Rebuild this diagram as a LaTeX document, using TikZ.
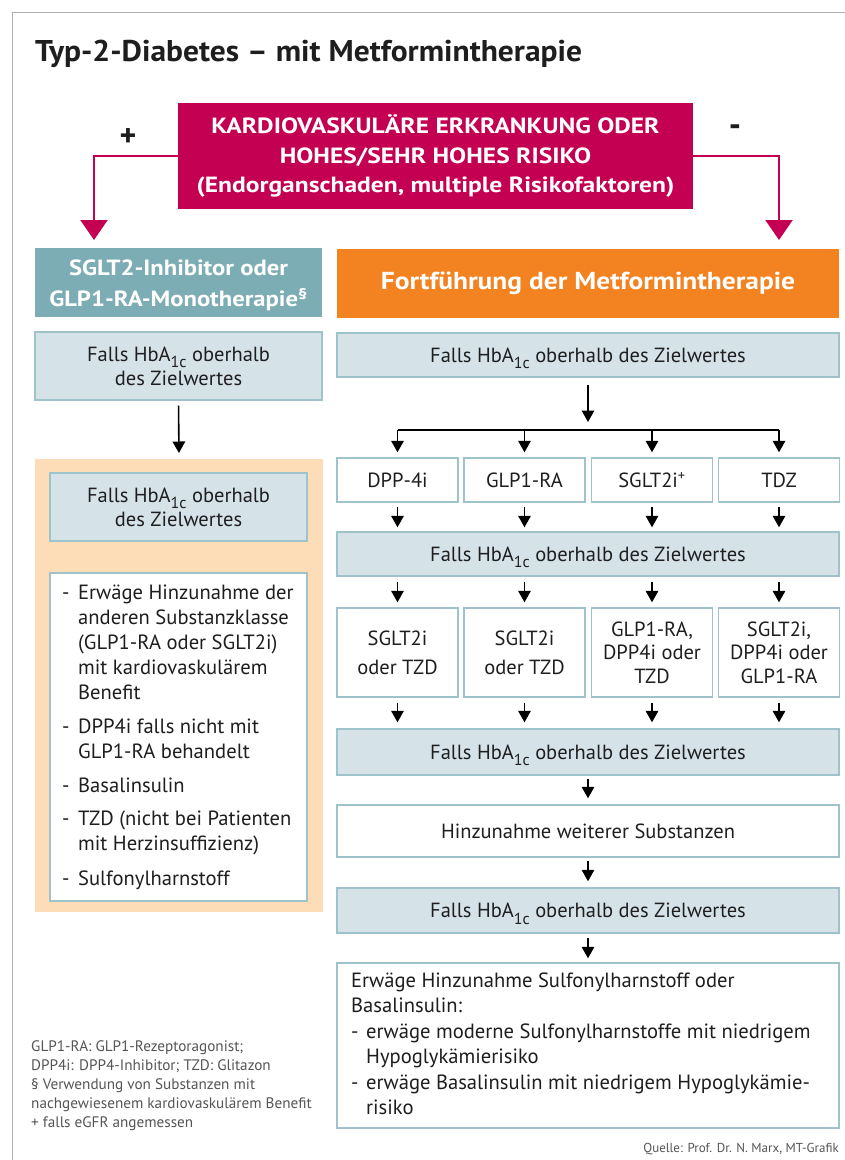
\documentclass[tikz,border=0pt]{standalone}
\usepackage{fontspec}
\setmainfont{PT Sans}
\newfontfamily\titlefont[FakeStretch=1.05]{PT Sans}
\newfontfamily\hdrfont[FakeStretch=1.12]{PT Sans}
\newfontfamily\pinkfont[FakeStretch=1.16]{PT Sans}
\usetikzlibrary{arrows.meta}
\definecolor{pinkc}{RGB}{196,0,82}
\definecolor{tealc}{RGB}{125,173,180}
\definecolor{orangec}{RGB}{243,131,33}
\definecolor{lightc}{RGB}{213,227,233}
\definecolor{borderc}{RGB}{158,195,203}
\definecolor{peachc}{RGB}{253,221,183}
\definecolor{framec}{RGB}{175,175,175}
\definecolor{txtc}{RGB}{30,30,30}
\definecolor{notec}{RGB}{85,85,85}
\newcommand\litem{\makebox[16pt][l]{-}}
\newcommand\lcont{\hspace*{16pt}}
\newcommand\hba{HbA\raisebox{-0.32em}[0pt][0pt]{\scalebox{0.78}{1c}}}
\begin{document}
\begin{tikzpicture}[x=1pt,y=-1pt,
  every node/.style={text=txtc},
  boxbase/.style={draw=borderc, line width=1.4pt, inner sep=0pt, align=center, font=\fontsize{20.5}{24}\selectfont},
  bluebox/.style={boxbase, fill=lightc},
  whitebox/.style={boxbase, fill=white},
  hdr/.style={inner sep=0pt, align=center, text=white, font=\fontsize{22}{31}\selectfont\hdrfont\bfseries},
  arr/.style={line width=1.6pt, draw=black, -{Triangle[width=12.5pt,length=11.5pt]}},
  bus/.style={line width=1.6pt, draw=black},
  pinkarr/.style={line width=2.2pt, draw=pinkc, -{Triangle[width=27pt,length=20pt]}}
]
\useasboundingbox (0,0) rectangle (845,1160);
\fill[white] (0,0) rectangle (845,1160);
\draw[framec, line width=1pt] (12,1160) -- (12,12) -- (845,12);

% title
\node[anchor=base west, inner sep=0pt, font=\fontsize{30}{32}\selectfont\titlefont\bfseries] (title) at (35,61) {Typ-2-Diabetes – mit Metformintherapie};

% risk box
\node[hdr, fill=pinkc, minimum width=515pt, minimum height=106pt, font=\fontsize{22}{29.5}\selectfont\pinkfont\bfseries] (risk) at (435.5,156)
  {KARDIOVASKULÄRE ERKRANKUNG ODER\\HOHES/SEHR HOHES RISIKO\\(Endorganschaden, multiple Risikofaktoren)};
\node[font=\fontsize{32}{34}\selectfont\bfseries, inner sep=0pt] (plus) at (128,137) {+};
\node[font=\fontsize{34}{36}\selectfont\bfseries, inner sep=0pt] (minus) at (735,131) {-};
\coordinate (lt) at (94,240);
\coordinate (rt) at (779,240);
\draw[pinkarr] (risk.west) -| (lt);
\draw[pinkarr] (risk.east) -| (rt);

% headers
\fill[tealc] (35,248) rectangle (322,317);
\node[hdr] (teal) at (178.5,285.5)
  {SGLT2-Inhibitor oder\\GLP1-RA-Monotherapie\textsuperscript{§}};
\node[hdr, fill=orangec, minimum width=502pt, minimum height=69pt, font=\fontsize{24.5}{31}\selectfont\hdrfont\bfseries] (orange) at (588,283)
  {Fortführung der Metformintherapie};

% left column
\node[bluebox, minimum width=287pt, minimum height=68pt] (L1) at (178.5,366) {Falls \hba{} oberhalb\\des Zielwertes};
\fill[peachc] (35,459) rectangle (323,912);
\coordinate (peachtop) at (179,459);
\node[bluebox, minimum width=257pt, minimum height=68pt] (L2) at (178.5,507) {Falls \hba{} oberhalb\\des Zielwertes};
\node[whitebox, minimum width=257pt, minimum height=328pt] (L3) at (178.5,737) {};
\node[anchor=north west, inner sep=0pt, align=left, font=\fontsize{20.6}{25}\selectfont] (L3t) at (62,581.5)
  {\strut\litem Erwäge Hinzunahme der\\
   \lcont anderen Substanzklasse\\
   \lcont (GLP1-RA oder SGLT2i)\\
   \lcont mit kardiovaskulärem\\
   \lcont Benefit\\[9pt]
   \litem DPP4i falls nicht mit\\
   \lcont GLP1-RA behandelt\\[9pt]
   \litem Basalinsulin\\[8pt]
   \litem TZD (nicht bei Patienten\\
   \lcont mit Herzinsuffizienz)\\[10pt]
   \litem Sulfonylharnstoff};
\draw[arr, shorten <=5pt, shorten >=6pt] (L1.south) -- (peachtop);

% right column
\node[bluebox, minimum width=502pt, minimum height=44pt] (R1) at (588,355) {Falls \hba{} oberhalb des Zielwertes};
\node[whitebox, minimum width=121pt, minimum height=44pt] (a1) at (397.5,480) {DPP-4i};
\node[whitebox, minimum width=121pt, minimum height=44pt] (a2) at (524.5,480) {GLP1-RA};
\node[whitebox, minimum width=121pt, minimum height=44pt] (a3) at (652,480) {SGLT2i\textsuperscript{+}};
\node[whitebox, minimum width=121pt, minimum height=44pt] (a4) at (779,480) {TDZ};
\node[bluebox, minimum width=502pt, minimum height=44pt] (R2) at (588,554) {Falls \hba{} oberhalb des Zielwertes};
\node[whitebox, minimum width=121pt, minimum height=89pt, font=\fontsize{20.5}{29}\selectfont] (b1) at (397.5,652.5) {SGLT2i\\oder TZD};
\node[whitebox, minimum width=121pt, minimum height=89pt, font=\fontsize{20.5}{29}\selectfont] (b2) at (524.5,652.5) {SGLT2i\\oder TZD};
\node[whitebox, minimum width=121pt, minimum height=89pt, font=\fontsize{20.5}{23.5}\selectfont] (b3) at (652,652.5) {GLP1-RA,\\DPP4i oder\\TZD};
\node[whitebox, minimum width=121pt, minimum height=89pt, font=\fontsize{20.5}{23.5}\selectfont] (b4) at (779,652.5) {SGLT2i,\\DPP4i oder\\GLP1-RA};
\node[bluebox, minimum width=502pt, minimum height=46pt] (R3) at (588,752) {Falls \hba{} oberhalb des Zielwertes};
\node[whitebox, minimum width=502pt, minimum height=52pt] (R4) at (588,831) {Hinzunahme weiterer Substanzen};
\node[bluebox, minimum width=502pt, minimum height=45pt] (R5) at (588,910.5) {Falls \hba{} oberhalb des Zielwertes};
\node[whitebox, minimum width=502pt, minimum height=165pt] (R6) at (588,1045.5) {};
\node[anchor=north west, inner sep=0pt, align=left, font=\fontsize{20.6}{25.5}\selectfont] (R6t) at (351,969)
  {\strut Erwäge Hinzunahme Sulfonylharnstoff oder\\
   Basalinsulin:\\
   \makebox[15pt][l]{-}erwäge moderne Sulfonylharnstoffe mit niedrigem\\
   \hspace*{15pt}Hypoglykämierisiko\\
   \makebox[15pt][l]{-}erwäge Basalinsulin mit niedrigem Hypoglykämie-\\
   \hspace*{15pt}risiko};

% right connectors
\coordinate (bus) at (588,430);
\draw[arr, shorten <=7pt, shorten >=8pt] (R1.south) -- (bus);
\draw[bus] (a1.north |- bus) -- (a4.north |- bus);
\foreach \n in {a1,a2,a3,a4} {
  \draw[arr, shorten >=5pt] (\n.north |- bus) -- (\n.north);
  \draw[arr, shorten <=4pt, shorten >=4pt] (\n.south) -- (\n.south |- R2.north);
}
\foreach \n in {b1,b2,b3,b4} {
  \draw[arr, shorten <=5pt, shorten >=5pt] (\n.north |- R2.south) -- (\n.north);
  \draw[arr, shorten <=5pt, shorten >=6pt] (\n.south) -- (\n.south |- R3.north);
}
\draw[arr, shorten <=3pt, shorten >=6pt] (R3.south) -- (R4.north);
\draw[arr, shorten <=3pt, shorten >=6pt] (R4.south) -- (R5.north);
\draw[arr, shorten <=4pt, shorten >=4pt] (R5.south) -- (R6.north);

% notes
\node[anchor=north west, inner sep=0pt, align=left, text=notec, font=\fontsize{15.2}{19}\selectfont] (notes) at (31,1038)
  {\strut GLP1-RA: GLP1-Rezeptoragonist;\\
   DPP4i: DPP4-Inhibitor; TZD: Glitazon\\
   § Verwendung von Substanzen mit\\
   nachgewiesenem kardiovaskulärem Benefit\\
   + falls eGFR angemessen};
\node[anchor=base east, inner sep=0pt, text=notec, font=\fontsize{13}{15}\selectfont] (src) at (839,1152) {Quelle: Prof. Dr. N. Marx, MT-Grafik};
\end{tikzpicture}
\end{document}
